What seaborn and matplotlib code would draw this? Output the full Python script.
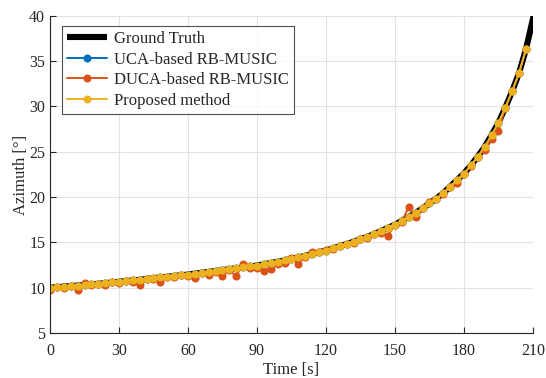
import matplotlib
matplotlib.use("Agg")
import matplotlib.pyplot as plt
import seaborn as sns
import pandas as pd
import numpy as np

# ---- data ----
time_s = [0, 3, 6, 9, 12, 15, 18, 21, 24, 27, 30, 33, 36, 39, 42, 45, 48, 51, 54, 57,
          60, 63, 66, 69, 72, 75, 78, 81, 84, 87, 90, 93, 96, 99, 102, 105, 108, 111, 114, 117,
          120, 123, 126, 129, 132, 135, 138, 141, 144, 147, 150, 153, 156, 159, 162, 165, 168, 171, 174, 177,
          180, 183, 186, 189, 192, 195, 198, 201, 204, 207]

ground_truth = [10.00, 10.06, 10.12, 10.18, 10.24, 10.30, 10.36, 10.43, 10.50, 10.58,
                10.65, 10.73, 10.80, 10.88, 10.96, 11.04, 11.13, 11.21, 11.29, 11.37,
                11.45, 11.55, 11.65, 11.74, 11.84, 11.94, 12.04, 12.14, 12.24, 12.35,
                12.45, 12.59, 12.72, 12.86, 13.01, 13.18, 13.34, 13.52, 13.71, 13.91,
                14.10, 14.34, 14.58, 14.82, 15.08, 15.35, 15.62, 15.92, 16.26, 16.61,
                16.95, 17.39, 17.82, 18.26, 18.76, 19.30, 19.84, 20.44, 21.16, 21.88,
                22.60, 23.50, 24.46, 25.54, 26.82, 28.20, 29.88, 31.68, 33.72, 36.33]
truth_end_time = 210.5
truth_end_value = 40.2

uca_music = list(ground_truth)

duca_music = [9.70, 10.06, 10.02, 10.23, 9.79, 10.55, 10.26, 10.43, 10.35, 10.63,
              10.55, 10.73, 10.60, 10.33, 10.96, 10.94, 10.63, 11.21, 11.19, 11.37,
              11.25, 11.10, 11.65, 11.39, 11.74, 11.34, 11.94, 11.29, 12.64, 12.15,
              12.15, 11.89, 12.12, 12.66, 12.71, 13.28, 12.64, 13.42, 13.91, 13.91,
              14.15, 14.24, 14.58, 14.87, 14.98, 15.35, 15.47, 15.92, 16.06, 15.76,
              16.95, 17.29, 18.92, 17.76, 18.81, 19.50, 19.84, 20.34, 21.16, 21.58,
              22.60, 23.40, 24.46, 25.24, 26.42, 27.30, 29.88, 31.68, 33.72, 36.33]

proposed = list(ground_truth)

series_names = ["Ground Truth", "UCA-based RB-MUSIC", "DUCA-based RB-MUSIC", "Proposed method"]
x_ticks = [0, 30, 60, 90, 120, 150, 180, 210]
y_ticks = [5, 10, 15, 20, 25, 30, 35, 40]

# ---- styling ----
sns.set_theme(style="white")
plt.rcParams["font.family"] = ["Liberation Serif", "DejaVu Serif"]
plt.rcParams["mathtext.fontset"] = "stix"

fig = plt.figure(figsize=(5.46, 3.78), dpi=100)
ax = fig.add_axes([0.0916, 0.119, 0.8844, 0.839])

c_black = "#000000"
c_blue = "#0072BD"
c_orange = "#D95319"
c_yellow = "#EDB120"

truth_df = pd.DataFrame({"t": time_s + [truth_end_time],
                         "v": ground_truth + [truth_end_value]})
sns.lineplot(data=truth_df, x="t", y="v", ax=ax, color=c_black, lw=4.4,
             label=series_names[0], sort=False, solid_capstyle="butt")

msz = 5.8
sns.lineplot(x=time_s, y=uca_music, ax=ax, color=c_blue, lw=1.4, marker="o",
             markersize=msz, markeredgewidth=0, label=series_names[1], sort=False)
sns.lineplot(x=time_s, y=duca_music, ax=ax, color=c_orange, lw=1.4, marker="o",
             markersize=msz, markeredgewidth=0, label=series_names[2], sort=False)
sns.lineplot(x=time_s, y=proposed, ax=ax, color=c_yellow, lw=1.4, marker="o",
             markersize=msz, markeredgewidth=0, label=series_names[3], sort=False)

ax.set_xlim(0, 210)
ax.set_ylim(5, 40)
ax.set_xticks(x_ticks)
ax.set_yticks(y_ticks)
ax.grid(True, color="#e3e3e3", lw=0.8)
ax.set_axisbelow(True)

for s in ["top", "right"]:
    ax.spines[s].set_visible(False)
for s in ["left", "bottom"]:
    ax.spines[s].set_color("#262626")
    ax.spines[s].set_linewidth(0.8)

ax.tick_params(direction="in", length=4, width=0.8, colors="#262626",
               labelsize=11.5, left=True, bottom=True)
ax.tick_params(axis="x", pad=7.5)
ax.tick_params(axis="y", pad=3.5)
ax.set_xlabel("Time [s]", fontsize=12, color="#262626", labelpad=2)
ax.set_ylabel("Azimuth [°]", fontsize=12, color="#262626", labelpad=0)

leg = ax.legend(loc="upper left", bbox_to_anchor=(0.025, 0.968), fontsize=12,
                frameon=True, fancybox=False, edgecolor="#262626",
                handlelength=2.4, handletextpad=0.4, labelspacing=0.27,
                borderpad=0.3, borderaxespad=0)
leg.get_frame().set_linewidth(0.8)

fig.savefig("out.png", dpi=100)
